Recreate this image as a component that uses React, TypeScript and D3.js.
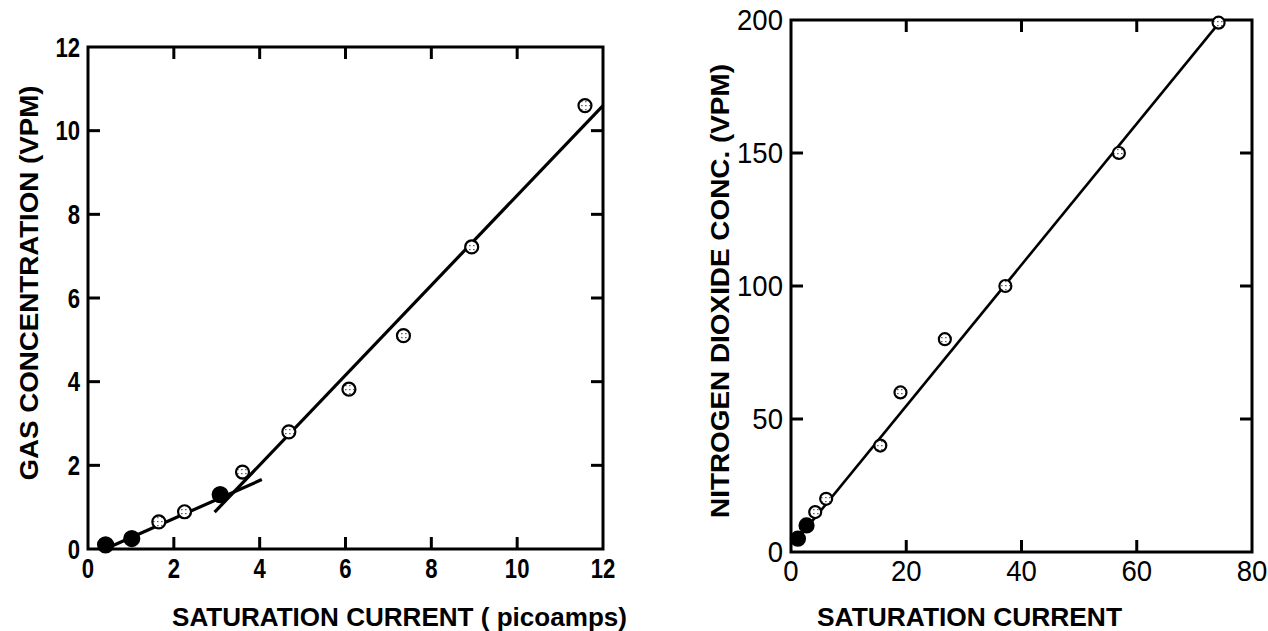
import React from 'react';
import * as d3 from 'd3';

// left panel: gas concentration vs saturation current (picoamps)
const gasCurrent = [0.41, 1.02, 1.65, 2.25, 3.08, 3.6, 4.68, 6.08, 7.35, 8.94, 11.58];
const gasConc = [0.1, 0.25, 0.65, 0.89, 1.3, 1.84, 2.8, 3.82, 5.1, 7.22, 10.6];
const gasFilled = [true, true, false, false, true, false, false, false, false, false, false];
const gasLowFitX = [0.4, 4.05];
const gasLowFitY = [0.0, 1.66];
const gasHighFitX = [2.95, 12];
const gasHighFitY = [0.88, 10.6];
const gasXTicks = [0, 2, 4, 6, 8, 10, 12];
const gasYTicks = [0, 2, 4, 6, 8, 10, 12];

// right panel: nitrogen dioxide conc. vs saturation current
const no2Current = [1.2, 2.7, 4.2, 6.1, 15.5, 19.0, 26.7, 37.2, 56.9, 74.2];
const no2Conc = [5, 10, 15, 20, 40, 60, 80, 100, 150, 199];
const no2Filled = [true, true, false, false, false, false, false, false, false, false];
const no2FitX = [1.0, 74.5];
const no2FitY = [4.5, 199.5];
const no2XTicks = [0, 20, 40, 60, 80];
const no2YTicks = [0, 50, 100, 150, 200];

type PanelProps = {
  left: number; right: number; top: number; bottom: number;
  xMax: number; yMax: number;
  xTicks: number[]; yTicks: number[];
  xs: number[]; ys: number[]; filled: boolean[];
  fits: { x: number[]; y: number[] }[];
  xTitle: string; xTitleX: number; xTitleLen: number;
  yTitle: string; yTitleX: number; yTitleY: number; yTitleLen: number;
  tickFont: number; tickScaleX: number; tickWeight: number;
  lineW: number; r: number;
};

const Panel = (p: PanelProps) => {
  const x = d3.scaleLinear().domain([0, p.xMax]).range([p.left, p.right]);
  const y = d3.scaleLinear().domain([0, p.yMax]).range([p.bottom, p.top]);
  const line = d3.line<number>().x((d) => x(d[0])).y((d) => y(d[1]));
  const tl = 12;
  const inner = (arr: number[], max: number) => arr.filter((t) => t > 0 && t < max);
  const font = "'Liberation Sans', Arial, sans-serif";

  return (
    <g>
      <rect x={p.left} y={p.top} width={p.right - p.left} height={p.bottom - p.top}
        fill="none" stroke="#000" strokeWidth={3} />
      {inner(p.xTicks, p.xMax).map((t) => (
        <g key={'xt' + t} stroke="#000" strokeWidth={3}>
          <line x1={x(t)} x2={x(t)} y1={p.bottom} y2={p.bottom - tl} />
          <line x1={x(t)} x2={x(t)} y1={p.top} y2={p.top + tl} />
        </g>
      ))}
      {inner(p.yTicks, p.yMax).map((t) => (
        <g key={'yt' + t} stroke="#000" strokeWidth={3}>
          <line x1={p.left} x2={p.left + tl} y1={y(t)} y2={y(t)} />
          <line x1={p.right} x2={p.right - tl} y1={y(t)} y2={y(t)} />
        </g>
      ))}
      {p.xTicks.map((t) => (
        <text key={'xl' + t} transform={`translate(${x(t)},${p.bottom + 29}) scale(${p.tickScaleX},1)`}
          textAnchor="middle" fontFamily={font} fontSize={p.tickFont} fontWeight={p.tickWeight}>{t}</text>
      ))}
      {p.yTicks.map((t) => (
        <text key={'yl' + t} transform={`translate(${p.left - 8},${y(t) + p.tickFont * 0.36}) scale(${p.tickScaleX},1)`}
          textAnchor="end" fontFamily={font} fontSize={p.tickFont} fontWeight={p.tickWeight}>{t}</text>
      ))}
      {p.fits.map((f, i) => (
        <path key={'fit' + i} d={line(f.x.map((v, j) => [v, f.y[j]]) as any) || ''}
          fill="none" stroke="#000" strokeWidth={p.lineW} />
      ))}
      {p.xs.map((v, i) => (
        <circle key={'pt' + i} cx={x(v)} cy={y(p.ys[i])} r={p.filled[i] ? p.r + 1 : p.r}
          fill={p.filled[i] ? '#000' : 'url(#speck)'} stroke="#000" strokeWidth={2.2} />
      ))}
      <text x={p.xTitleX} y={626} fontFamily={font} fontSize={26} fontWeight={700}
        textLength={p.xTitleLen} lengthAdjust="spacingAndGlyphs">{p.xTitle}</text>
      <text transform={`translate(${p.yTitleX},${p.yTitleY}) rotate(-90)`} textAnchor="middle"
        fontFamily={font} fontSize={26} fontWeight={700}
        textLength={p.yTitleLen} lengthAdjust="spacingAndGlyphs">{p.yTitle}</text>
    </g>
  );
};

export default function App() {
  return (
    <svg width={1268} height={631} style={{ position: 'absolute', left: 0, top: 0, background: '#fff' }}>
      <defs>
        <pattern id="speck" width={4} height={4} patternUnits="userSpaceOnUse">
          <rect width={4} height={4} fill="#fff" />
          <rect x={1} y={1} width={1.6} height={1.2} fill="#666" />
        </pattern>
      </defs>
      <Panel left={88} right={603} top={47} bottom={549} xMax={12} yMax={12}
        xTicks={gasXTicks} yTicks={gasYTicks}
        xs={gasCurrent} ys={gasConc} filled={gasFilled}
        fits={[{ x: gasLowFitX, y: gasLowFitY }, { x: gasHighFitX, y: gasHighFitY }]}
        xTitle="SATURATION CURRENT ( picoamps)" xTitleX={172} xTitleLen={455}
        yTitle="GAS CONCENTRATION (VPM)" yTitleX={38} yTitleY={283} yTitleLen={395}
        tickFont={27} tickScaleX={0.82} tickWeight={700} lineW={3.2} r={6.5} />
      <Panel left={791} right={1252} top={20} bottom={552} xMax={80} yMax={200}
        xTicks={no2XTicks} yTicks={no2YTicks}
        xs={no2Current} ys={no2Conc} filled={no2Filled}
        fits={[{ x: no2FitX, y: no2FitY }]}
        xTitle="SATURATION CURRENT" xTitleX={817} xTitleLen={305}
        yTitle="NITROGEN DIOXIDE CONC. (VPM)" yTitleX={729} yTitleY={291} yTitleLen={454}
        tickFont={29} tickScaleX={0.95} tickWeight={400} lineW={2.6} r={6} />
    </svg>
  );
}
